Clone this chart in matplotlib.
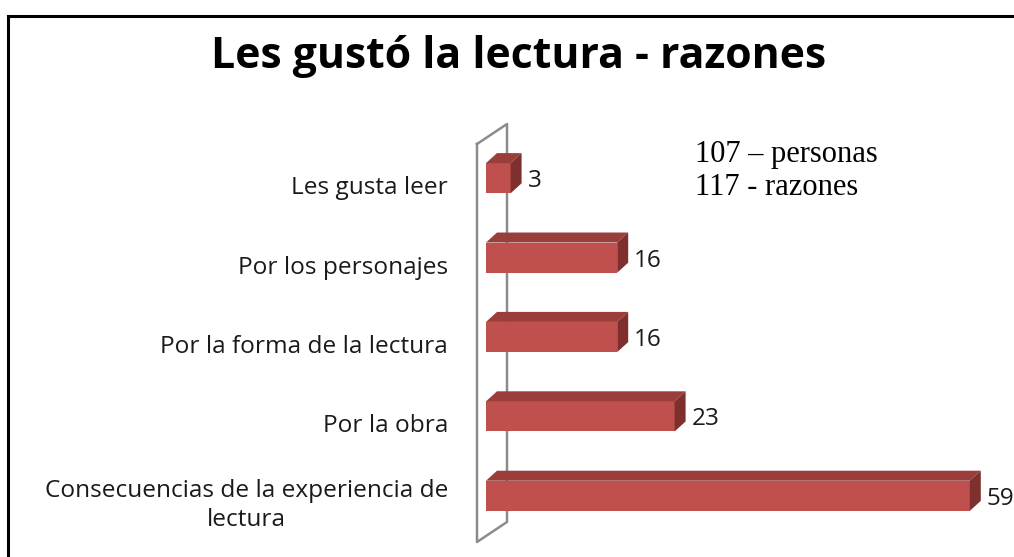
import numpy as np
import matplotlib.pyplot as plt
from matplotlib.patches import Polygon, Rectangle
from matplotlib.lines import Line2D

# data
categorias = ['Les gusta leer', 'Por los personajes', 'Por la forma de la lectura',
              'Por la obra', 'Consecuencias de la experiencia de\nlectura']
valores = [3, 16, 16, 23, 59]
titulo = 'Les gustó la lectura - razones'
nota = '107 – personas\n117 - razones'

W, H = 1014, 557
fig = plt.figure(figsize=(W / 100, H / 100), dpi=100)
fig.patch.set_facecolor('white')

# axes placed so bars line up with the reference
px_unit = 8.2
x0_px, ytop_px, ybot_px = 486, 138.5, 535.5
xmax = 60
ax = fig.add_axes([x0_px / W, 1 - ybot_px / H, xmax * px_unit / W, (ybot_px - ytop_px) / H])
ax.set_xlim(0, xmax)
ax.set_ylim(len(valores) - 0.5, -0.5)
ax.axis('off')

frente = '#C0504D'
arriba = '#9A3E3B'
lado = '#7E302E'
alto = 0.38
bars = ax.barh(range(len(valores)), valores, height=alto, color=frente, zorder=3)

fig.canvas.draw()
dx, dy = 11, 10  # depth in pixels
to_fig = fig.transFigure.inverted()

def fig_pts(pts):
    return to_fig.transform(pts)

txt = '#1a1a1a'
for b, v in zip(bars, valores):
    (xa, y1), (xb, y2) = ax.transData.transform([(b.get_x(), b.get_y()),
                                                  (b.get_x() + b.get_width(), b.get_y() + b.get_height())])
    yt, yb = max(y1, y2), min(y1, y2)
    top = [(xa, yt), (xb, yt), (xb + dx, yt + dy), (xa + dx, yt + dy)]
    side = [(xb, yt), (xb, yb), (xb + dx, yb + dy), (xb + dx, yt + dy)]
    fig.add_artist(Polygon(fig_pts(top), closed=True, facecolor=arriba, edgecolor='none', zorder=4))
    fig.add_artist(Polygon(fig_pts(side), closed=True, facecolor=lado, edgecolor='none', zorder=4))
    cy = (yt + yb) / 2
    tx, ty = fig_pts([(xb + 17, cy - 3)])[0]
    fig.text(tx, ty, str(v), ha='left', va='center', fontsize=17.5,
             family='Open Sans', color=txt)

# wall (back panel), behind the bars
wall = [(477, 144), (507, 124), (507, 522), (477, 542), (477, 144)]
wx = [p[0] / W for p in wall]
wy = [1 - p[1] / H for p in wall]
fig.add_artist(Line2D(wx, wy, color='#8c8c8c', lw=1.8, zorder=-1))

# category labels
for b, c in zip(bars, categorias):
    _, cy = ax.transData.transform((0, b.get_y() + b.get_height() / 2))
    tx, ty = fig_pts([(448, cy - 10)])[0]
    fig.text(tx, ty, c, ha='right', va='center', multialignment='center',
             fontsize=17.6, family='Open Sans', color=txt, linespacing=1.3)

fig.text(519 / W, 1 - 57 / H, titulo, ha='center', va='center', fontsize=30.8,
         fontweight='bold', family='Open Sans', color='black')
fig.text(695 / W, 1 - 171 / H, nota, ha='left', va='center', fontsize=22,
         family='Liberation Serif', color='black', linespacing=1.2)

# chart border
fig.add_artist(Rectangle((8 / W, -0.1), 1.2, 1.1 - 16 / H, transform=fig.transFigure,
                         fill=False, edgecolor='black', lw=2.2, zorder=10))

fig.savefig('out.png', dpi=100)
